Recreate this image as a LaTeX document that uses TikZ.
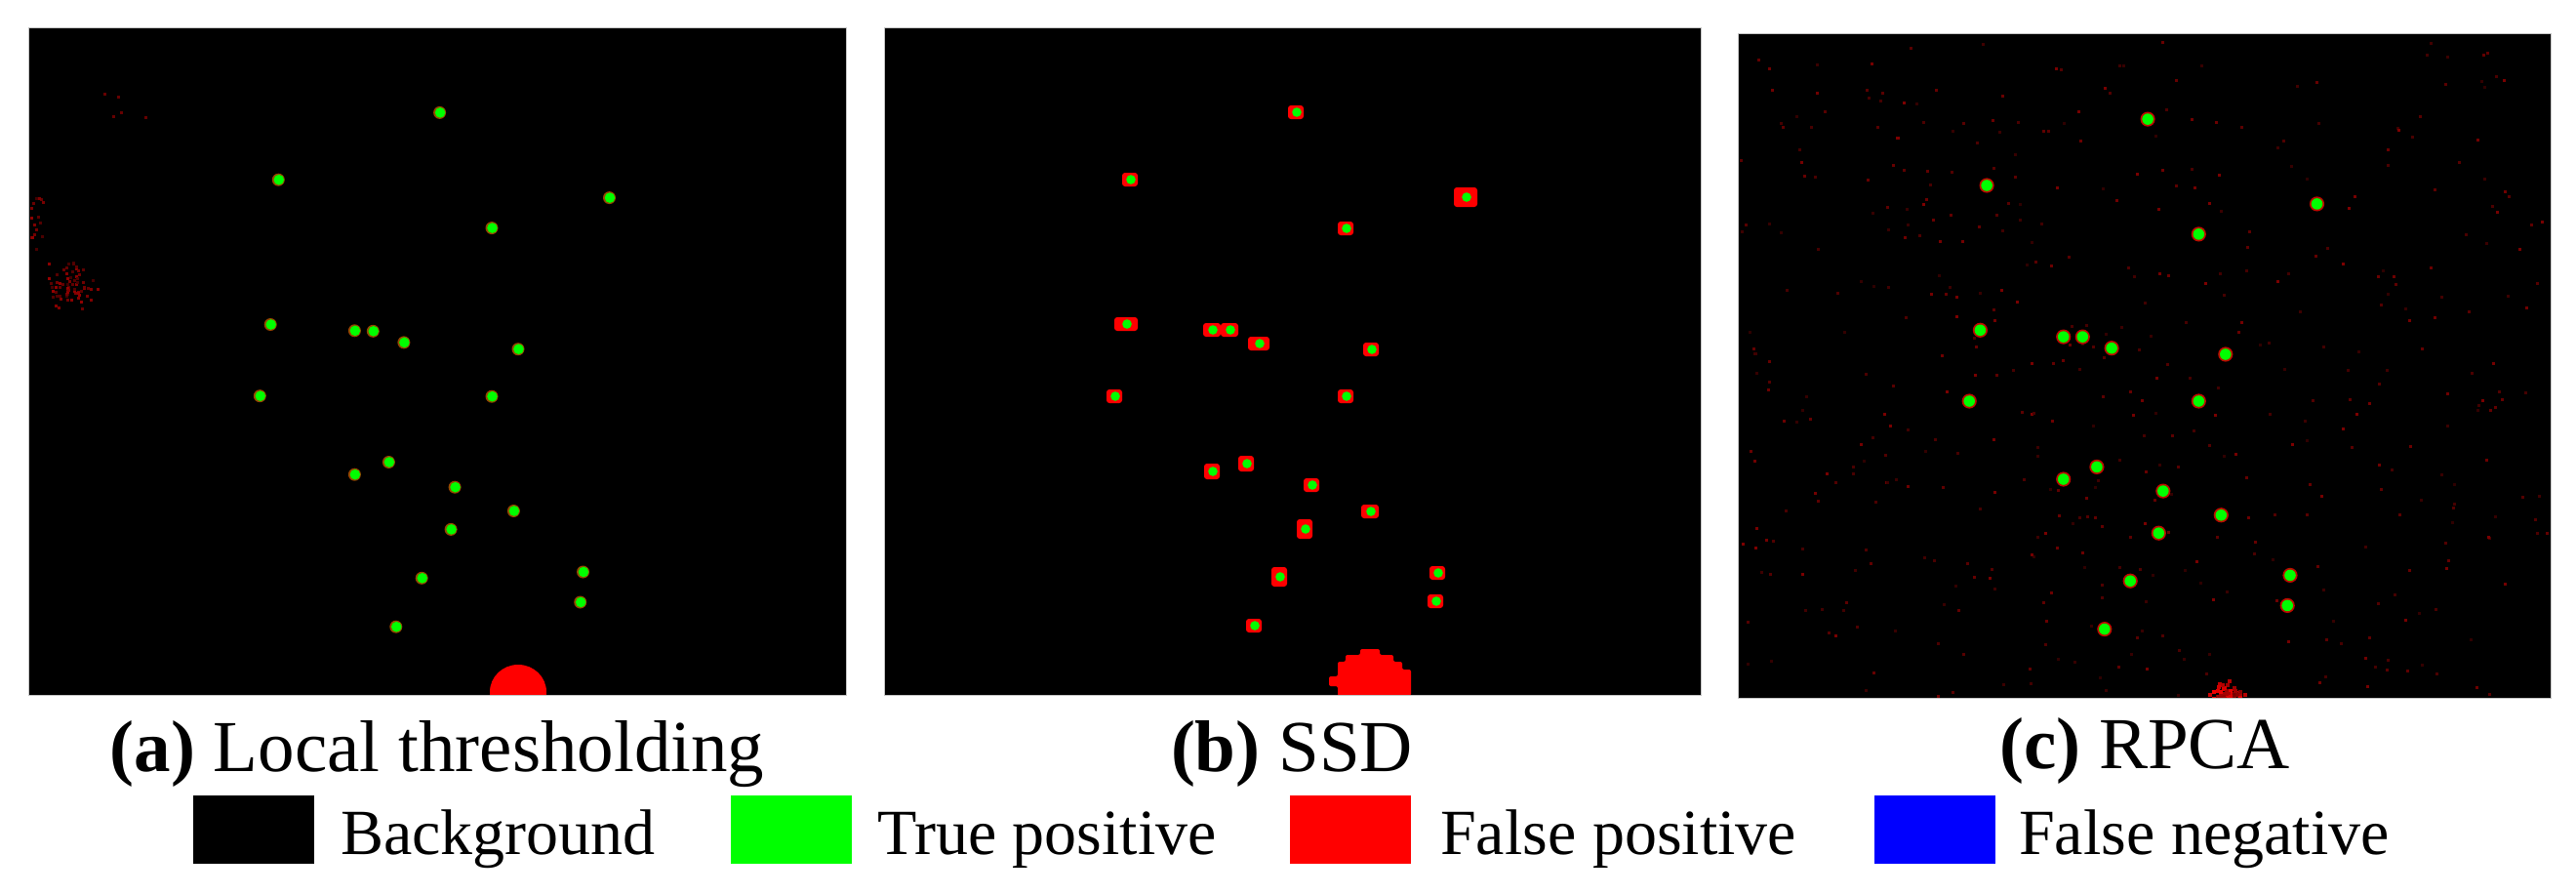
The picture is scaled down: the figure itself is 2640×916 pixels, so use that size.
\documentclass[tikz,border=0pt]{standalone}
\usepackage{fontspec}
\setmainfont{Liberation Serif}
\definecolor{tpg}{RGB}{0,255,0}
\definecolor{fpr}{RGB}{255,0,0}
\definecolor{fnb}{RGB}{0,0,255}
\definecolor{rimA}{RGB}{150,70,0}
\definecolor{rimC}{RGB}{190,10,0}
\tikzset{
  panel/.style={fill=black, inner sep=0pt, anchor=north west},
  captext/.style={font=\fontsize{75}{90}\selectfont, inner sep=0pt},
  lbl/.style={font=\fontsize{66}{80}\selectfont, inner sep=0pt, anchor=base west},
  keybox/.style={minimum width=124pt, minimum height=70pt, inner sep=0pt, draw=none},
  frame/.style={draw=gray!45, line width=1pt}
}
\begin{document}
\begin{tikzpicture}[x=1pt,y=-1pt]
\useasboundingbox (0,0) rectangle (2640,916);
\fill[white] (0,0) rectangle (2640,916);

% panels
\node[panel, minimum width=838pt, minimum height=684pt] (pa) at (29,28) {};
\node[panel, minimum width=837pt, minimum height=684pt] (pb) at (906,28) {};
\node[panel, minimum width=833pt, minimum height=681pt] (pc) at (1781,34) {};

% ---------- panel (a) ----------
\begin{scope}
\clip (pa.north west) rectangle (pa.south east);
\pgfmathsetseed{4242}
\foreach \i in {1,...,70}{
  \pgfmathsetmacro\rx{72+30*(rnd+rnd-1)}
  \pgfmathsetmacro\ry{291+26*(rnd+rnd-1)}
  \pgfmathtruncatemacro\rc{25+35*rnd}
  \fill[red!\rc!black] (\rx,\ry) rectangle ++(3,3);
}
\foreach \i in {1,...,16}{
  \pgfmathsetmacro\rx{30+14*rnd}
  \pgfmathsetmacro\ry{199+55*rnd}
  \pgfmathtruncatemacro\rc{25+35*rnd}
  \fill[red!\rc!black] (\rx,\ry) rectangle ++(3,3);
}
\foreach \x/\y in {106/95,120/98,115/118,123/114,148/119}
  \fill[red!40!black] (\x,\y) rectangle ++(3,3);
\foreach \x/\y in {450.6/115.4,285.3/184.2,624.5/202.6,504/233.6,277.2/332.5,363.4/338.8,382.3/339.3,413.9/350.9,531/357.7,266.3/405.7,504/406.2,398.4/473.5,363.4/486.2,466.1/499.2,526.4/523.5,462.1/542.4,597.5/586,432.2/592.3,594.7/617,405.8/642.2}{
  \fill[rimA] (\x,\y) circle (6.5);
  \fill[tpg] (\x+0.5,\y) circle (5.3);
}
\fill[fpr] (531,709) ellipse (29 and 28);
\end{scope}

% ---------- panel (b) ----------
\begin{scope}
\clip (pb.north west) rectangle (pb.south east);
\foreach \x/\y/\w/\h in {1328/115/8/7,1158/184/8/7,1502/202/12/10,1379/234/8/7,1154/332/12/7,1242/338/9/7,1260/338/9/7,1290/352/11/7,1405/358/8/7,1142/406/8/7,1379/406/8/7,1277/475/8/8,1242/483/8/8,1344/497/8/7,1404/524/9/7,1337/542/8/10,1311/591/8/10,1473/587/8/7,1471/616/8/7,1285/641/8/7}{
  \fill[fpr, rounded corners=3pt] (\x-\w,\y-\h) rectangle (\x+\w,\y+\h);
  \fill[tpg] (\x+1,\y) circle (4.8);
}
\fill[fpr, rounded corners=2pt] (1394,665) -- (1414,665) -- (1414,671) -- (1428,671) -- (1428,678) -- (1437,678) -- (1437,686) -- (1446,686) -- (1446,713) -- (1371,713) -- (1371,703) -- (1362,703) -- (1362,693) -- (1371,693) -- (1371,678) -- (1379,678) -- (1379,671) -- (1394,671) -- cycle;
\end{scope}

% ---------- panel (c) ----------
\begin{scope}
\clip (pc.north west) rectangle (pc.south east);
\pgfmathsetseed{777}
\foreach \i in {1,...,480}{
  \pgfmathsetmacro\rx{1783+828*rnd}
  \pgfmathsetmacro\ry{36+676*rnd}
  \pgfmathtruncatemacro\rc{18+32*rnd}
  \fill[red!\rc!black] (\rx,\ry) rectangle ++(3,3);
}
\foreach \i in {1,...,80}{
  \pgfmathsetmacro\rx{2282+20*(rnd+rnd-1)}
  \pgfmathsetmacro\ry{716-24*rnd*rnd}
  \pgfmathtruncatemacro\rc{45+50*rnd}
  \fill[red!\rc!black] (\rx,\ry) rectangle ++(4,4);
}
\foreach \x/\y in {2201.1/122.1,2036.1/190,2374.5/208.9,2253.3/239.9,2029.4/338.3,2114.7/345.1,2134.3/345.1,2164.1/356.7,2280.8/363,2018.2/411,2253.3/411,2148.9/478.4,2114.7/491,2216.8/503.1,2276.3/527.8,2212.3/546.2,2347/589.4,2183.2/595.2,2344.2/620.4,2156.8/644.6}{
  \fill[rimC] (\x,\y) circle (7.6);
  \fill[tpg] (\x,\y) circle (5.8);
}
\end{scope}
\draw[frame] (pa.north west) rectangle (pa.south east);
\draw[frame] (pb.north west) rectangle (pb.south east);
\draw[frame] (pc.north west) rectangle (pc.south east);

% captions
\node[captext, anchor=base] (capa) at (448,790) {\textbf{(a)} Local thresholding};
\node[captext, anchor=base] (capb) at (1324,790) {\textbf{(b)} SSD};
\node[captext, anchor=base] (capc) at (2198,787) {\textbf{(c)} RPCA};

% legend
\node[keybox, fill=black] (kbg) at (260,850) {};
\node[lbl] (tbg) at (349,875) {Background};
\node[keybox, fill=tpg] (ktp) at (811,850) {};
\node[lbl] (ttp) at (899,875) {True positive};
\node[keybox, fill=fpr] (kfp) at (1383.5,850) {};
\node[lbl] (tfp) at (1476,875) {False positive};
\node[keybox, fill=fnb] (kfn) at (1982.5,850) {};
\node[lbl] (tfn) at (2069,875) {False negative};
\end{tikzpicture}
\end{document}
